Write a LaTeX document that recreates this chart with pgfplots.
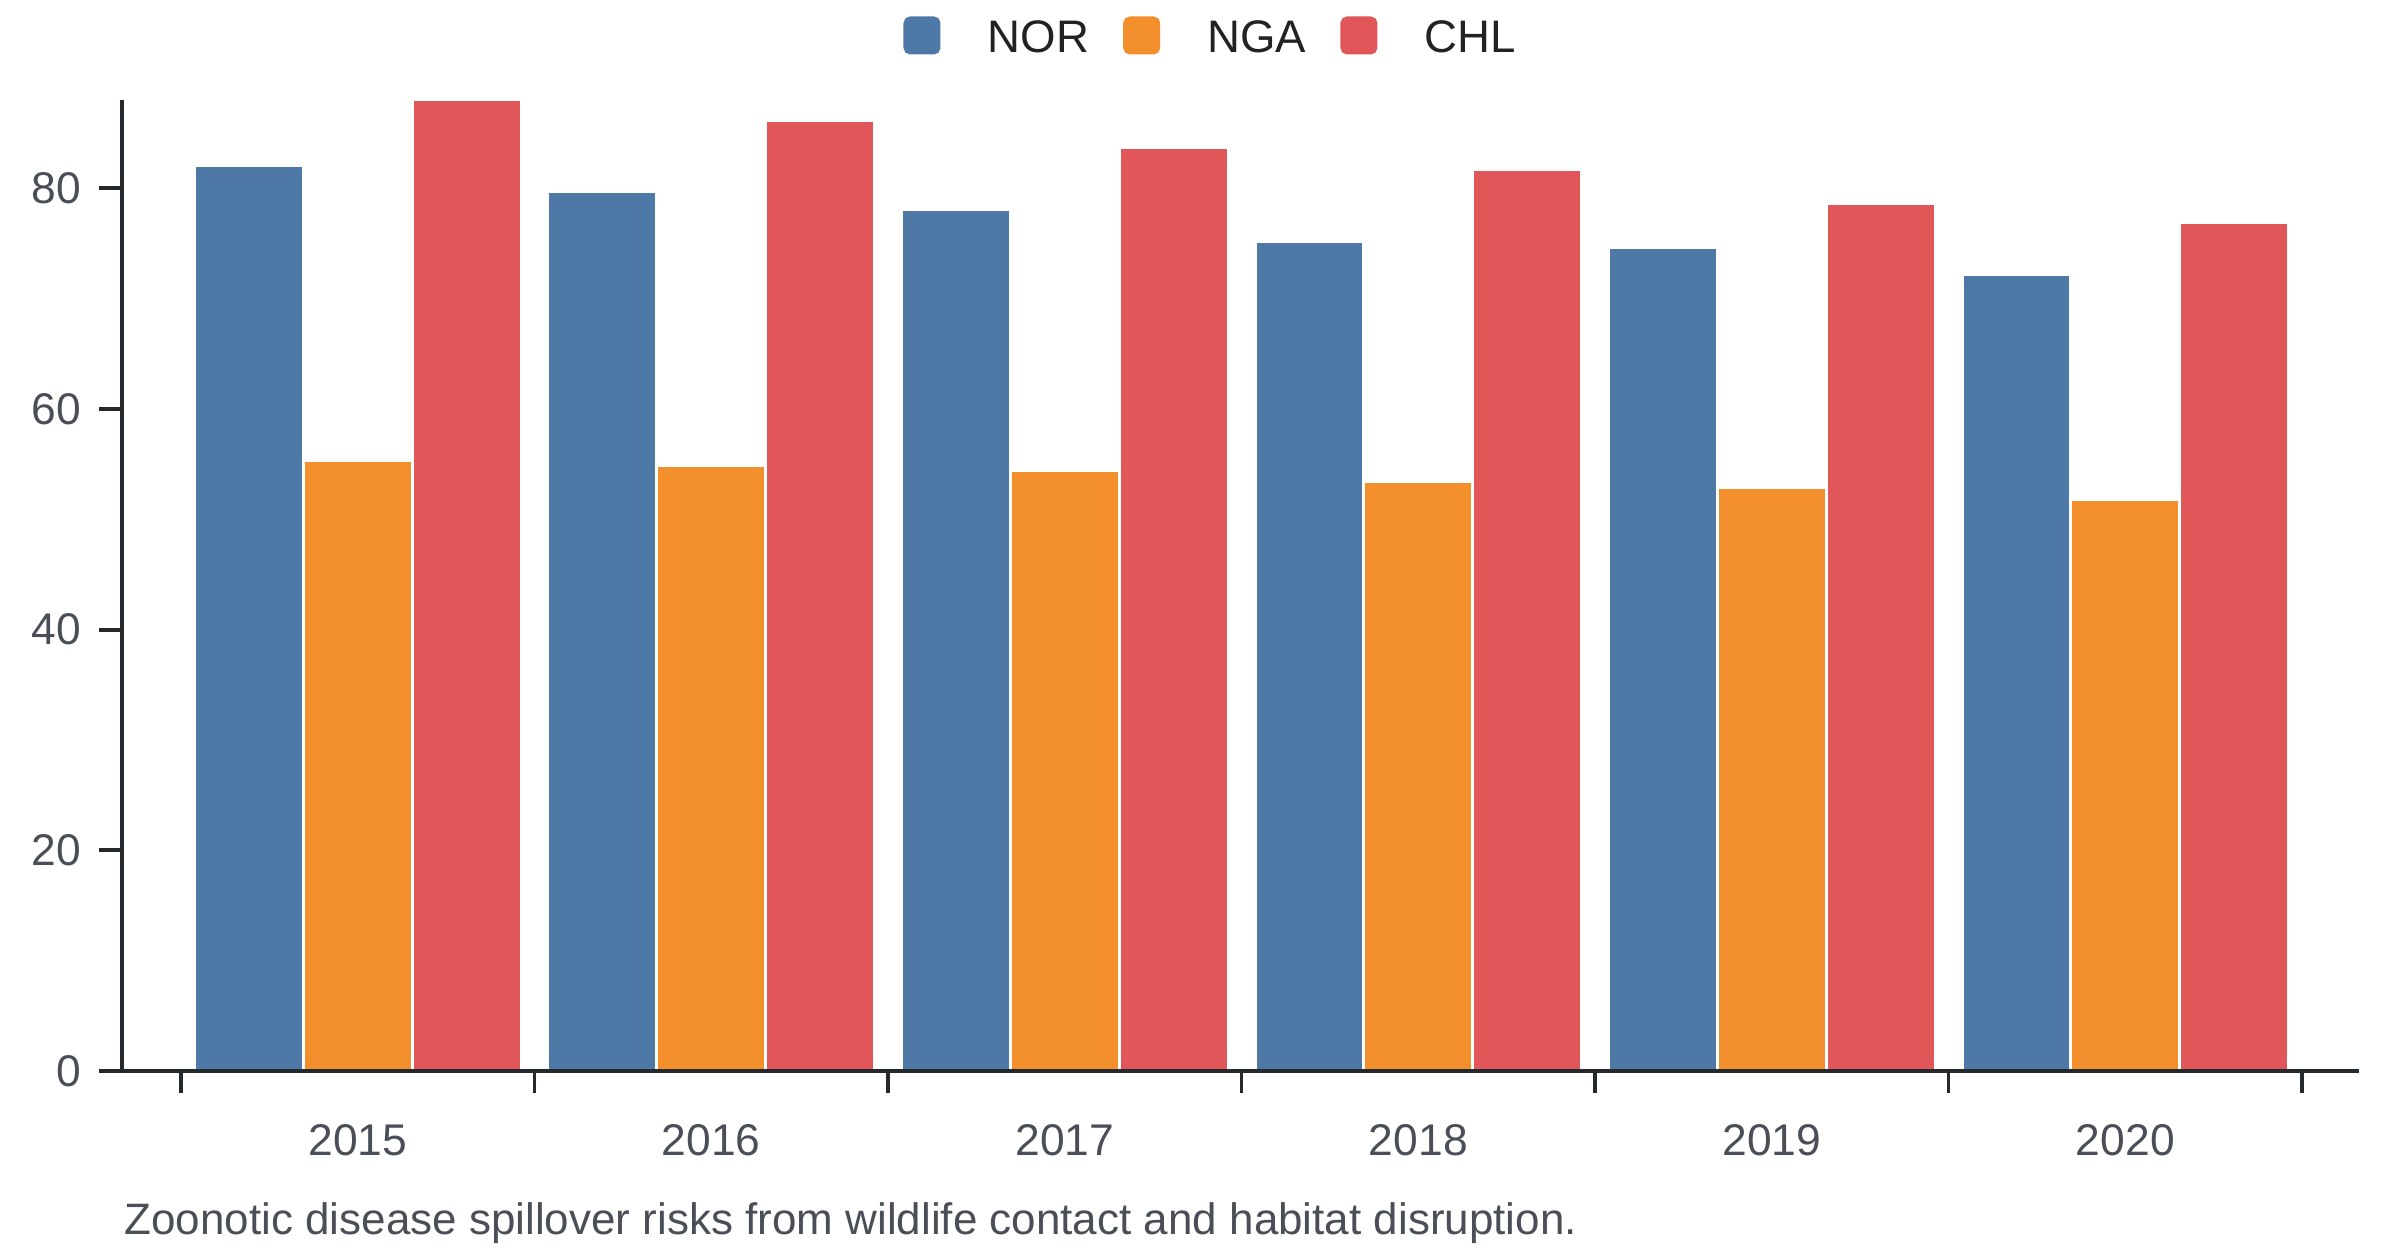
\documentclass[border=0pt]{standalone}
\usepackage{fontspec}
\setmainfont{Liberation Sans}
\usepackage{pgfplots}
\usepackage{pgfplotstable}
\pgfplotsset{compat=1.18}
\definecolor{cNOR}{HTML}{4E79A7}
\definecolor{cNGA}{HTML}{F28E2B}
\definecolor{cCHL}{HTML}{E15759}
\definecolor{axisc}{HTML}{24292E}
\definecolor{tickc}{HTML}{4A4F57}
\definecolor{legc}{HTML}{222222}

\pgfplotstableread{
x nor nga chl
0 82.1 55.3 88.0
1 79.7 54.9 86.1
2 78.1 54.4 83.7
3 75.2 53.4 81.7
4 74.6 52.9 78.6
5 72.2 51.8 76.9
}\data

\pgfplotsset{
  mybar/.style={fill=#1, draw=white, line width=0.75pt,
    legend image code/.code={\fill[#1, rounded corners=1.3pt] (0pt,-3.25pt) rectangle (8.5pt,5.5pt);}},
}

\begin{document}
\begin{tikzpicture}
\begin{axis}[
  scale only axis,
  width=559.25pt, height=242.75pt,
  xmin=-0.667, xmax=5.661, ymin=0, ymax=88,
  ybar, bar width=0.308, bar shift=0pt,
  axis on top=true,
  axis x line=bottom, axis y line=left,
  x axis line style={-, draw=axisc, line width=0.85pt, shorten <=-5.75pt},
  y axis line style={-, draw=axisc, line width=0.95pt},
  tick align=outside,
  xtick={0,...,5},
  xticklabels={2015,2016,2017,2018,2019,2020},
  major x tick style={draw=none},
  minor xtick={-0.5,0.5,1.5,2.5,3.5,4.5,5.5},
  minor tick length=5.6pt,
  major tick length=5.75pt,
  ytick={0,20,40,60,80},
  major tick style={draw=axisc, line width=0.95pt},
  minor tick style={draw=axisc, line width=0.85pt},
  /pgf/number format/assume math mode=true,
  ticklabel style={font=\fontsize{11.1}{13}\selectfont, text=tickc},
  xticklabel style={yshift=-4pt},
  yticklabel style={xshift=-1pt},
  legend columns=3,
  legend style={draw=none, fill=none, at={(axis description cs:0.488,1.0618)}, anchor=center,
    font=\fontsize{11.4}{13}\selectfont, text=legc,
    /tikz/every odd column/.append style={column sep=9.8pt},
    /tikz/every even column/.append style={column sep=6.55pt}},
]
\addplot[mybar=cNOR] table[x expr=\thisrow{x}-0.308, y=nor] {\data};
\addlegendentry{NOR}
\addplot[mybar=cNGA] table[x=x, y=nga] {\data};
\addlegendentry{NGA}
\addplot[mybar=cCHL] table[x expr=\thisrow{x}+0.308, y=chl] {\data};
\addlegendentry{CHL}
\coordinate (SW) at (rel axis cs:0,0);
\coordinate (NE) at (rel axis cs:1,1);
\end{axis}
\node[anchor=base west, inner sep=0pt, font=\fontsize{11}{13}\selectfont, text=tickc]
  at ([shift={(0.4pt,-41pt)}]SW) {Zoonotic disease spillover risks from wildlife contact and habitat disruption.};
\pgfresetboundingbox
\path ([shift={(-30.5pt,-46.25pt)}]SW) rectangle ([shift={(10.25pt,25pt)}]NE);
\end{tikzpicture}
\end{document}
